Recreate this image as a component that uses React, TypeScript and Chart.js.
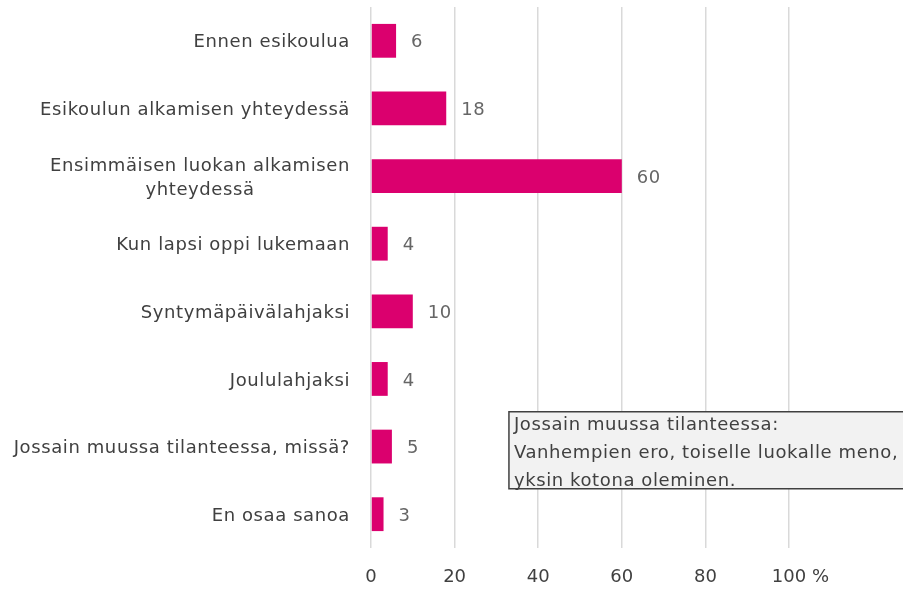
import React, { useEffect, useRef } from "react";
import { Chart, registerables } from "chart.js";

Chart.register(...registerables);

const categories: (string | string[])[] = [
  "Ennen esikoulua",
  "Esikoulun alkamisen yhteydessä",
  ["Ensimmäisen luokan alkamisen", "yhteydessä"],
  "Kun lapsi oppi lukemaan",
  "Syntymäpäivälahjaksi",
  "Joululahjaksi",
  "Jossain muussa tilanteessa, missä?",
  "En osaa sanoa",
];
const values = [6, 18, 60, 4, 10, 4, 5, 3];
const xTicks = [0, 20, 40, 60, 80, 100];
const unitLabel = "%";
const noteLines = [
  "Jossain muussa tilanteessa:",
  "Vanhempien ero, toiselle luokalle meno,",
  "yksin kotona oleminen.",
];

const FONT = "'DejaVu Sans', sans-serif";
const FS = 18;
const LS = "0.6px";

export default function App() {
  const ref = useRef<HTMLCanvasElement | null>(null);
  useEffect(() => {
    if (!ref.current) return;
    const labelsPlugin = {
      id: "customLabels",
      afterDraw(chart: any) {
        const ctx = chart.ctx;
        const ys = chart.scales.y;
        const xs = chart.scales.x;
        const area = chart.chartArea;
        ctx.save();
        ctx.font = `${FS}px ${FONT}`;
        (ctx as any).letterSpacing = LS;
        ctx.textBaseline = "middle";
        categories.forEach((c, i) => {
          const y = ys.getPixelForTick(i) + 2;
          const right = area.left - 21;
          ctx.fillStyle = "#404040";
          if (Array.isArray(c)) {
            const w = Math.max(...c.map((s) => ctx.measureText(s).width));
            const cx = right - w / 2;
            ctx.textAlign = "center";
            const lh = 24;
            c.forEach((s, j) => {
              ctx.fillText(s, cx, y + (j - (c.length - 1) / 2) * lh);
            });
          } else {
            ctx.textAlign = "right";
            ctx.fillText(c, right, y);
          }
        });
        ctx.fillStyle = "#666666";
        ctx.textAlign = "left";
        values.forEach((v, i) => {
          const y = ys.getPixelForTick(i) + 2;
          const x = xs.getPixelForValue(v) + 15;
          ctx.fillText(String(v), x, y);
        });
        (ctx as any).letterSpacing = "0px";
        const last = xTicks[xTicks.length - 1];
        const lx = xs.getPixelForValue(last);
        ctx.font = `18px ${FONT}`;
        ctx.fillStyle = "#404040";
        const lastW = ctx.measureText(String(last)).width;
        ctx.fillText(" " + unitLabel, lx + lastW / 2, area.bottom + 29);
        ctx.font = `${FS}px ${FONT}`;
        (ctx as any).letterSpacing = LS;
        const bx = xs.getPixelForValue(33);
        const by = (ys.getPixelForTick(5) + ys.getPixelForTick(6)) / 2 - 1;
        const bw = chart.width - bx + 10;
        const bh = 77;
        ctx.fillStyle = "#f2f2f2";
        ctx.fillRect(bx, by, bw, bh);
        ctx.strokeStyle = "#404040";
        ctx.lineWidth = 1.5;
        ctx.strokeRect(bx, by, bw, bh);
        ctx.fillStyle = "#404040";
        ctx.textAlign = "left";
        noteLines.forEach((s, j) => {
          ctx.fillText(s, bx + 5, by + 14 + j * 28);
        });
        ctx.restore();
      },
    };
    const chart = new Chart(ref.current, {
      type: "bar",
      data: {
        labels: categories as any,
        datasets: [
          {
            data: values,
            backgroundColor: "#db006e",
            barPercentage: 0.5,
            categoryPercentage: 1,
          },
        ],
      },
      options: {
        indexAxis: "y",
        animation: false,
        responsive: false,
        maintainAspectRatio: false,
        layout: { padding: { top: 7, right: 114, bottom: 0, left: 0 } },
        plugins: { legend: { display: false }, tooltip: { enabled: false } },
        scales: {
          x: {
            min: 0,
            max: 100,
            afterBuildTicks: (scale: any) => {
              scale.ticks = xTicks.map((v) => ({ value: v }));
            },
            afterFit: (scale: any) => {
              scale.height = 41;
            },
            grid: { color: "#d9d9d9", lineWidth: 1.5, drawTicks: false },
            border: { display: false },
            ticks: {
              color: "#404040",
              font: { size: 18, family: FONT },
              padding: 19,
            },
          },
          y: {
            grid: { display: false },
            border: { display: false },
            ticks: { display: false },
            afterFit: (scale: any) => {
              scale.width = 371;
            },
          },
        },
      },
      plugins: [labelsPlugin],
    });
    return () => chart.destroy();
  }, []);
  return (
    <div style={{ position: "fixed", left: 0, top: 0, width: 903, height: 589, background: "#fff" }}>
      <canvas ref={ref} width={903} height={589} style={{ display: "block" }} />
    </div>
  );
}
